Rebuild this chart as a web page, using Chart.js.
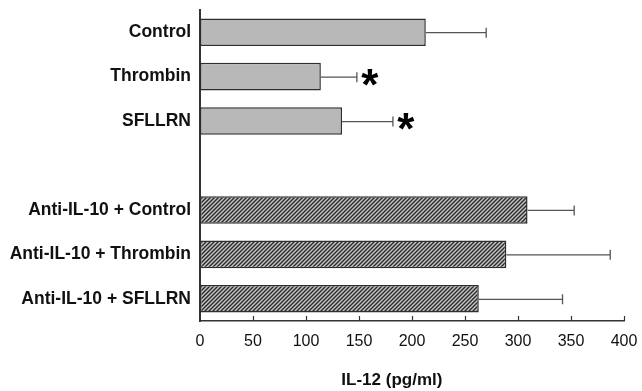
<!DOCTYPE html>
<html>
<head>
<meta charset="utf-8">
<script src="https://cdn.jsdelivr.net/npm/chart.js@4.4.1/dist/chart.umd.min.js"></script>
<style>
  html, body { margin: 0; padding: 0; background: #fff; }
  #wrap { width: 642px; height: 391px; }
</style>
</head>
<body>
<div id="wrap"><canvas id="chart" width="642" height="391"></canvas></div>
<script>
// groups (blank slot separates the two blocks)
var groups = ['Control', 'Thrombin', 'SFLLRN', '', 'Anti-IL-10 + Control', 'Anti-IL-10 + Thrombin', 'Anti-IL-10 + SFLLRN'];
var il12 = [213, 114, 134, null, 309, 289, 263];
var il12Err = [57, 34, 48, null, 44, 98, 79];
var significant = [false, true, true, false, false, false, false];
var xTicks = [0, 50, 100, 150, 200, 250, 300, 350, 400];
var xTitle = 'IL-12 (pg/ml)';

// hatch fill for the anti-IL-10 bars
function hatch() {
	var c = document.createElement('canvas');
	c.width = 4; c.height = 4;
	var g = c.getContext('2d');
	g.fillStyle = '#c6c6c6';
	g.fillRect(0, 0, 4, 4);
	g.strokeStyle = '#282828';
	g.lineWidth = 1.4;
	g.beginPath();
	g.moveTo(-1, 5); g.lineTo(5, -1);
	g.moveTo(-1, 1); g.lineTo(1, -1);
	g.moveTo(3, 5); g.lineTo(5, 3);
	g.stroke();
	return g.createPattern(c, 'repeat');
}
var pat = hatch();
var fills = [];
for (var i = 0; i < groups.length; i++) {
	fills.push(i < 3 ? '#b8b8b8' : pat);
}

var extras = {
	id: 'extras',
	afterDatasetsDraw: function(chart) {
		var ctx = chart.ctx;
		var xs = chart.scales.x, ys = chart.scales.y;
		ctx.save();
		// error bars, right side only
		ctx.strokeStyle = '#555';
		ctx.lineWidth = 1.3;
		for (var i = 0; i < il12.length; i++) {
			if (il12[i] == null) continue;
			var y = ys.getPixelForValue(i) + 0.5;
			var x0 = xs.getPixelForValue(il12[i]);
			var x1 = xs.getPixelForValue(il12[i] + il12Err[i]);
			ctx.beginPath();
			ctx.moveTo(x0, y); ctx.lineTo(x1, y);
			ctx.moveTo(x1, y - 5); ctx.lineTo(x1, y + 5);
			ctx.stroke();
			if (significant[i]) {
				ctx.fillStyle = '#000';
				ctx.font = 'bold 44px "Liberation Sans", Arial, sans-serif';
				ctx.textAlign = 'center';
				ctx.textBaseline = 'alphabetic';
				var m = ctx.measureText('*');
				var mid = (m.actualBoundingBoxAscent - m.actualBoundingBoxDescent) / 2;
				ctx.fillText('*', x1 + 13, y + mid);
			}
		}
		// inward ticks on x axis
		ctx.strokeStyle = '#333';
		ctx.lineWidth = 1.2;
		var yb = chart.chartArea.bottom;
		for (var k = 1; k < xTicks.length; k++) {
			var tx = Math.round(xs.getPixelForValue(xTicks[k])) + 0.5;
			ctx.beginPath();
			ctx.moveTo(tx, yb); ctx.lineTo(tx, yb - 5);
			ctx.stroke();
		}
		// axis title
		ctx.fillStyle = '#111';
		ctx.font = 'bold 17px "Liberation Sans", Arial, sans-serif';
		ctx.textAlign = 'center';
		ctx.textBaseline = 'middle';
		ctx.fillText(xTitle, xs.getPixelForValue(181), 380);
		ctx.restore();
	}
};

var ctx = document.getElementById('chart');
var chart = new Chart(ctx, {
	type: 'bar',
	data: {
		labels: groups,
		datasets: [{
			data: il12,
			backgroundColor: fills,
			borderColor: '#2e2e2e',
			borderWidth: 1.5,
			borderSkipped: false,
			barPercentage: 0.62,
			categoryPercentage: 1.0
		}]
	},
	options: {
		indexAxis: 'y',
		responsive: false,
		animation: false,
		layout: { padding: { top: 10, right: 18, left: 0, bottom: 0 } },
		plugins: { legend: { display: false }, tooltip: { enabled: false } },
		scales: {
			x: {
				min: 0, max: 400,
				afterFit: function(s) {
					s.height = 70;
					s.paddingLeft = 0; s.paddingRight = 0;
				},
				afterBuildTicks: function(s) { s.ticks = xTicks.map(function(v) { return { value: v }; }); },
				grid: { display: false, drawTicks: false },
				border: { display: true, color: '#333', width: 1.5 },
				ticks: {
					padding: 11,
					color: '#111',
					font: { family: '"Liberation Sans", Arial, sans-serif', size: 16 }
				}
			},
			y: {
				afterFit: function(s) {
					s.width = 200;
					s.paddingTop = 0; s.paddingBottom = 0;
				},
				grid: { display: false, drawTicks: false },
				border: { display: true, color: '#333', width: 2 },
				ticks: {
					padding: 9,
					color: '#111',
					font: { family: '"Liberation Sans", Arial, sans-serif', size: 17.5, weight: 'bold' }
				}
			}
		}
	},
	plugins: [extras]
});
</script>
</body>
</html>
